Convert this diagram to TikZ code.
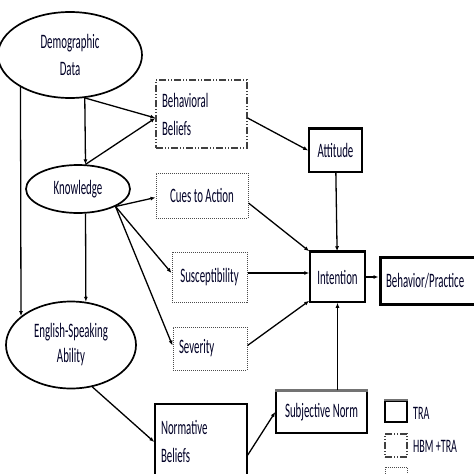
\documentclass[tikz,border=0pt]{standalone}
\usepackage{fontspec}
\newfontfamily\calnar[FakeStretch=0.53]{Carlito}
\usetikzlibrary{arrows.meta,shapes.geometric}
\begin{document}
\begin{tikzpicture}[x=1pt,y=-1pt,
  txt/.style={font=\fontsize{20.5}{27}\selectfont\calnar, text=black!85!blue},
  ell/.style={ellipse, draw, line width=1.7pt, inner sep=0pt, txt, align=center},
  tra/.style={rectangle, draw, line width=1.5pt, inner sep=0pt, txt},
  hbmtra/.style={rectangle, draw=black!75, line width=1.2pt, inner sep=0pt, txt,
     dash pattern=on 7pt off 2pt on 1pt off 2pt on 1pt off 2pt},
  hbm/.style={rectangle, draw=black!70, line width=1pt, inner sep=0pt, txt,
     dash pattern=on 1pt off 1pt},
  arr/.style={-{Latex[length=5pt,width=4pt]}, line width=1.3pt},
  legtxt/.style={font=\fontsize{19}{20}\selectfont\calnar, text=black!85!blue, anchor=west, inner sep=0pt}
]
\useasboundingbox (0,0) rectangle (474,474);

% ellipses
\node[ell, minimum width=144pt, minimum height=86pt] (demo) at (70,55) {Demographic\\Data};
\node[ell, minimum width=104pt, minimum height=48pt] (kn) at (78,189) {Knowledge};
\node[ell, minimum width=130pt, minimum height=87pt, font=\fontsize{20.5}{25}\selectfont\calnar] (eng) at (71,345) {English-Speaking\\Ability};

% boxes
\node[hbmtra, minimum width=91pt, minimum height=68pt, text width=79pt, align=left, font=\fontsize{20.5}{28}\selectfont\calnar] (bb) at (201.5,114) {Behavioral\\Beliefs};
\node[hbm, minimum width=92pt, minimum height=45pt] (cues) at (202,195.5) {Cues to Action};
\node[hbm, minimum width=75pt, minimum height=50pt] (sus) at (209.5,277) {Susceptibility};
\node[hbm, minimum width=74pt, minimum height=43pt, text width=62pt, align=left] (sev) at (210,348.5) {Severity};
\node[tra, minimum width=53pt, minimum height=43pt] (att) at (335.5,150.5) {Attitude};
\node[tra, minimum width=55pt, minimum height=50pt] (int) at (337.5,277) {Intention};
\node[tra, line width=3pt, minimum width=98pt, minimum height=47pt, text width=86pt, align=left] (beh) at (429,280.5) {Behavior/Practice};
\node[tra, minimum width=91pt, minimum height=42pt] (sn) at (321.5,412) {Subjective Norm};
\node[tra, minimum width=92pt, minimum height=74pt, text width=80pt, align=left, font=\fontsize{20.5}{28}\selectfont\calnar] (nb) at (201,441) {Normative\\Beliefs};

% heavier top edges
\draw[line width=2.6pt, black!55] (sn.north west) -- (sn.north east);
\draw[line width=2.2pt] (att.north west) -- (att.north east);
\draw[line width=2.2pt] (int.north west) -- (int.north east);

% legend
\node[tra, minimum width=22pt, minimum height=21pt] (lg1) at (396,411.5) {};
\draw[line width=2.4pt, black!55] (lg1.north west) -- (lg1.north east);
\node[hbmtra, minimum width=22pt, minimum height=23pt] (lg2) at (396,445.5) {};
\node[hbm, minimum width=22pt, minimum height=22pt] (lg3) at (396,478) {};
\node[legtxt] (lt1) at (413,413) {TRA};
\node[legtxt] (lt2) at (413,446) {HBM +TRA};
\node[legtxt] (lt3) at (413,481) {HBM};

% connectors
\draw[arr] (demo.289.7) -- (kn.73.6);
\draw[arr] (demo.289.7) -- ([yshift=-4pt]bb.west);
\draw[arr] (kn.73.6) -- ([yshift=-4pt]bb.west);
\draw[arr] (demo.213.7) -- (eng.150.3);
\draw[arr] (kn.-73.6) -- (eng.71.6);
\draw[arr] (kn.-25) -- ([yshift=-2pt]cues.west);
\draw[arr] (kn.-25) -- ([yshift=4pt]sus.west);
\draw[arr] (kn.-25) -- ([yshift=3pt]sev.west);
\draw[arr] ([yshift=-4pt]bb.east) -- (att.west);
\draw[arr] ([yshift=-7.5pt]cues.east) -- (int.north west);
\draw[arr] ([yshift=4pt]sus.east) -- ([yshift=4pt]int.west);
\draw[arr] ([yshift=3pt]sev.east) -- ([yshift=2pt]int.south west);
\draw[arr] (att) -- (int);
\draw[arr] (int.east) -- (int.east -| beh.west);
\draw[arr] (int.south |- sn.north) -- (int.south);
\draw[arr] ([yshift=-14pt]nb.east) -- (sn.west);
\draw[arr] (eng.-63) -- ([yshift=-1pt]nb.west);
\end{tikzpicture}
\end{document}
